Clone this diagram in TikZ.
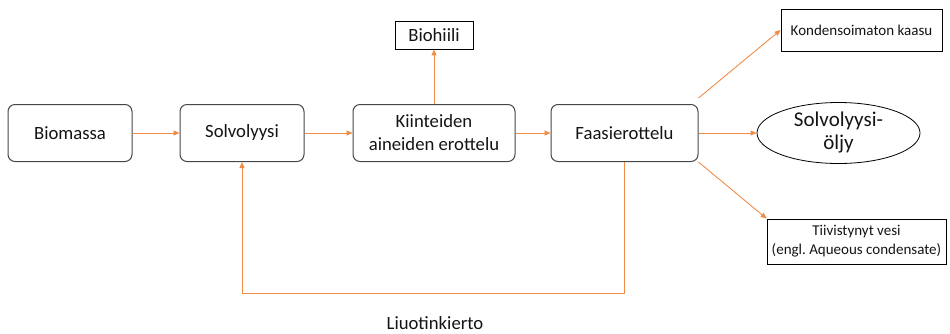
\documentclass[tikz,border=0pt]{standalone}
\usepackage{fontspec}
\setmainfont{Carlito}
\usetikzlibrary{shapes.geometric,arrows.meta}
\definecolor{arr}{RGB}{240,140,70}
\definecolor{bord}{RGB}{70,70,70}
\definecolor{txt}{RGB}{20,20,20}
\begin{document}
\begin{tikzpicture}[x=1pt,y=-1pt,
  every node/.style={text=txt, inner sep=0pt, align=center},
  proc/.style={draw=bord, line width=1pt, rounded corners=7pt, font=\fontsize{18.7}{23}\selectfont},
  prod/.style={draw=black, line width=0.8pt, font=\fontsize{15}{19}\selectfont},
  flow/.style={draw=arr, line width=0.9pt, -{Triangle[length=6pt,width=5pt]}}
]
\frenchspacing
\useasboundingbox (0,0) rectangle (950,333);
\node[proc, minimum width=124pt, minimum height=57pt] (bio) at (70,133) {Biomassa};
\node[proc, minimum width=124pt, minimum height=57pt] (solv) at (242,133) {Solvolyysi};
\node[proc, minimum width=162pt, minimum height=57pt] (kiin) at (434,133) {Kiinteiden\\aineiden erottelu};
\node[proc, minimum width=147pt, minimum height=57pt] (faas) at (624.5,133) {Faasierottelu};
\node[prod, font=\fontsize{18.7}{23}\selectfont, minimum width=78pt, minimum height=28pt] (hiili) at (434,35) {Biohiili};
\node[prod, minimum width=161pt, minimum height=42pt] (kond) at (861.5,30) {Kondensoimaton kaasu};
\node[draw=black, line width=0.8pt, ellipse, minimum width=163pt, minimum height=61pt, font=\fontsize{21}{23}\selectfont] (oil) at (838.5,133) {Solvolyysi-\\öljy};
\node[prod, minimum width=179pt, minimum height=45pt] (tiiv) at (856.5,241.5) {Tiivistynyt vesi\\(engl.\ Aqueous condensate)};
\node[font=\fontsize{18.7}{23}\selectfont] (loopl) at (435,323) {Liuotinkierto};
\coordinate (lp) at (0,293);

\draw[flow] (bio.east) -- (solv.west);
\draw[flow] (solv.east) -- (kiin.west);
\draw[flow] (kiin.east) -- (faas.west);
\draw[flow] (kiin.north) -- (hiili.south);
\draw[flow] ([yshift=6pt]faas.north east) -- (kond.west);
\draw[flow] (faas.east) -- (oil.west);
\draw[flow] (faas.south east) -- (tiiv.north west);
\draw[flow] (faas.south) -- (faas.south |- lp) -- (solv.south |- lp) -- (solv.south);
\end{tikzpicture}
\end{document}
